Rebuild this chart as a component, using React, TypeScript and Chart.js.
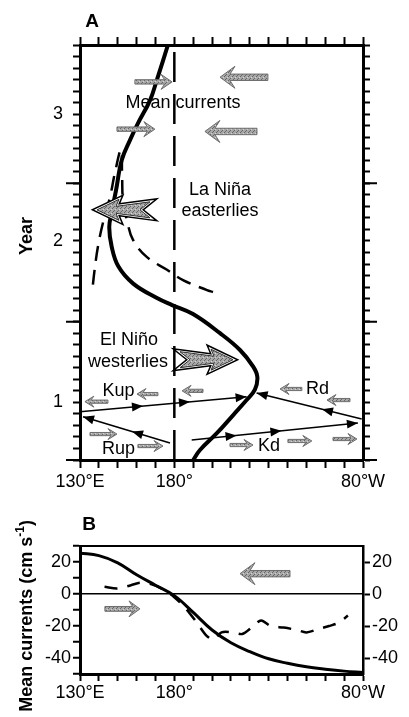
import React, { useEffect, useRef } from "react";
import { Chart, registerables } from "chart.js";
Chart.register(...registerables);

const FONT = '"Liberation Sans", Arial, Helvetica, sans-serif';

// ---------- Panel A (longitude vs. months) ----------
const lonLabelValues = [130, 180, 280];
const lonLabels = ["130°E", "180°", "80°W"];
const yearLabelMonths = [5, 19, 30];
const yearLabels = ["1", "2", "3"];
const yearBoundaryMonths = [0, 12, 24];

// eastern edge of warm pool (thick solid)
const edgeLon = [190, 193.6, 202.4, 211.2, 218.3, 222.7, 224, 221.8, 214.8, 204.2, 189.9, 178.8, 170.8, 158.2, 150.3, 146.8, 145.5, 146.8, 149.1, 152.1, 156.5, 160.7, 167.1, 170.8, 176.6];
const edgeMonth = [0, 0.87, 2.3, 3.9, 5.2, 6.1, 7.2, 8.1, 9.54, 11.0, 12.66, 13.44, 14.05, 15.3, 16.8, 18.5, 20.2, 21.5, 23.4, 26.0, 27.75, 29.2, 31.2, 33, 36];

// dashed curve
const dashLon = [200.5, 197.3, 184.6, 176.1, 165.5, 158.1, 154.9, 152.8, 152.3, 151.7, 148.5, 145.9, 142.2, 139.5, 137.9, 136.4];
const dashMonth = [14.57, 14.74, 15.6, 16.5, 17.6, 19.1, 20.8, 22.5, 24.7, 26.9, 24.9, 22.8, 20.6, 18.5, 16.7, 14.57];

// date line
const dateLineLon = [180, 180];
const dateLineMonth = [0, 36];

// wave paths: Kup, Rup, Kd, Rd
const waveFromLon = [130, 177.7, 189.2, 279.3];
const waveFromMonth = [4.19, 1.47, 1.73, 3.56];
const waveToLon = [218.3, 131.6, 277.3, 223.6];
const waveToMonth = [5.49, 3.76, 3.21, 5.81];
const waveHeads = [[0.378, 0.66, 1], [0.437, 1], [0.27, 0.54, 1], [0.378, 1]];

// mean current arrows
const meanTailLon = [159.1, 149.6, 229.6, 223.8];
const meanTipLon = [178.8, 169.7, 204.2, 196.2];
const meanMonth = [32.8, 28.7, 33.2, 28.5];

// small zonal current arrows
const smallTailLon = [144.8, 171.3, 195.2, 247.6, 273.1, 135.3, 160.7, 209.5, 240.2, 264.1];
const smallTipLon = [132.6, 160.2, 184.1, 236.0, 260.9, 149.6, 174.0, 221.7, 252.9, 276.8];
const smallMonth = [5.06, 5.72, 6.0, 6.16, 5.2, 2.25, 1.21, 1.3, 1.65, 1.82];

// wind arrows
const windTailLon = [167.1, 183];
const windTipLon = [139, 211.1];
const windMonth = [21.7, 8.7];

// text notes
const noteText = ["Mean currents", "La Niña", "easterlies", "El Niño", "westerlies", "Kup", "Rup", "Kd", "Rd"];
const noteLon = [184.6, 204.2, 204.2, 156, 155.4, 150.4, 150.4, 230.2, 255.9];
const noteMonth = [31.0, 23.4, 21.6, 10.4, 8.5, 6.0, 0.95, 1.21, 6.16];

// ---------- Panel B (mean currents) ----------
const currentLabelValues = [20, 0, -20, -40];
const bSolidLon = [130, 140, 150, 160, 170, 180, 190, 200, 210, 220, 230, 240, 250, 260, 270, 280];
const bSolidVal = [25.5, 24, 19.5, 12, 5.5, -1, -11.5, -22.5, -30.5, -36, -40.5, -43.3, -45.5, -47, -48.2, -49];
const bDashLon = [143, 150, 157, 162, 168, 174, 180, 186, 192, 197, 201, 205, 211, 216, 221, 226, 231, 238, 245, 250, 256, 262, 267, 272];
const bDashVal = [4.5, 3.5, 5.5, 7, 6, 3, -2, -9, -18, -26, -28.5, -24, -24, -25, -21, -16.5, -20, -21, -22.5, -24, -22, -20, -18, -13.5];
const bArrowTailLon = [241.3, 143.2];
const bArrowTipLon = [214.8, 161.8];
const bArrowVal = [12.7, -9.3];

const pts = (xs: number[], ys: number[]) => xs.map((x, i) => ({ x, y: ys[i] }));

function makePattern(ctx: CanvasRenderingContext2D) {
  const c = document.createElement("canvas");
  c.width = 4;
  c.height = 4;
  const g = c.getContext("2d")!;
  g.fillStyle = "#a8a8a8";
  g.fillRect(0, 0, 4, 4);
  g.fillStyle = "#666";
  g.fillRect(0, 0, 1, 1);
  g.fillRect(2, 2, 1, 1);
  g.fillRect(1, 3, 1, 1);
  g.fillStyle = "#d2d2d2";
  g.fillRect(3, 1, 1, 1);
  return ctx.createPattern(c, "repeat") as CanvasPattern;
}

function poly(ctx: CanvasRenderingContext2D, p: number[][]) {
  ctx.beginPath();
  p.forEach(([x, y], i) => (i ? ctx.lineTo(x, y) : ctx.moveTo(x, y)));
  ctx.closePath();
}

function blockArrow(ctx: CanvasRenderingContext2D, xTail: number, xTip: number, y: number, sh: number, hl: number, hh: number, notch: number, fill: any) {
  const d = Math.sign(xTip - xTail) || 1;
  const L = Math.abs(xTip - xTail);
  const P = (a: number, b: number) => [xTail + d * a, y + b];
  poly(ctx, [P(0, -sh), P(L - hl + notch, -sh), P(L - hl, -hh), P(L, 0), P(L - hl, hh), P(L - hl + notch, sh), P(0, sh)]);
  ctx.fillStyle = fill;
  ctx.fill();
  ctx.strokeStyle = "#6e6e6e";
  ctx.lineWidth = 1;
  ctx.stroke();
}

function fletchArrow(ctx: CanvasRenderingContext2D, xTail: number, xTip: number, y: number, fill: any) {
  const d = Math.sign(xTip - xTail) || 1;
  const L = Math.abs(xTip - xTail);
  const P = (a: number, b: number) => [xTail + d * a, y + b];
  const shape = [P(0, -8), P(L - 19, -3.5), P(L - 22, -10.5), P(L, 0), P(L - 22, 10.5), P(L - 19, 3.5), P(0, 8), P(10, 0)];
  ctx.lineJoin = "miter";
  poly(ctx, shape);
  ctx.strokeStyle = "#000";
  ctx.lineWidth = 5.5;
  ctx.stroke();
  ctx.strokeStyle = "#fff";
  ctx.lineWidth = 2.5;
  ctx.stroke();
  ctx.fillStyle = fill;
  ctx.fill();
  ctx.strokeStyle = "#333";
  ctx.lineWidth = 1;
  ctx.stroke();
}

function headAt(ctx: CanvasRenderingContext2D, x: number, y: number, ang: number, len = 10, half = 4.5) {
  const c = Math.cos(ang), s = Math.sin(ang);
  ctx.beginPath();
  ctx.moveTo(x, y);
  ctx.lineTo(x - len * c + half * s, y - len * s - half * c);
  ctx.lineTo(x - len * c - half * s, y - len * s + half * c);
  ctx.closePath();
  ctx.fillStyle = "#000";
  ctx.fill();
}

function axisTitle(ctx: CanvasRenderingContext2D, x: number, topEnd: number, parts: { t: string; sup?: boolean }[]) {
  const big = `bold 18px ${FONT}`;
  const small = `bold 12px ${FONT}`;
  let w = 0;
  parts.forEach((p) => {
    ctx.font = p.sup ? small : big;
    w += ctx.measureText(p.t).width;
  });
  ctx.save();
  ctx.translate(x, topEnd + w);
  ctx.rotate(-Math.PI / 2);
  ctx.fillStyle = "#000";
  ctx.textBaseline = "middle";
  ctx.textAlign = "left";
  let cx = 0;
  parts.forEach((p) => {
    ctx.font = p.sup ? small : big;
    ctx.fillText(p.t, cx, p.sup ? -6 : 0);
    cx += ctx.measureText(p.t).width;
  });
  ctx.restore();
}

const lonLabel = (v: any) => {
  const i = lonLabelValues.indexOf(Math.round(Number(v)));
  return i >= 0 ? lonLabels[i] : "";
};

const tickFont = { family: FONT, size: 18 };

const panelAPlugin = {
  id: "panelA",
  afterDraw(chart: any) {
    const ctx: CanvasRenderingContext2D = chart.ctx;
    const xs = chart.scales.x;
    const ys = chart.scales.y;
    const { left, right } = chart.chartArea;
    const pat = makePattern(ctx);
    ctx.save();
    // long ticks at year boundaries
    ctx.strokeStyle = "#000";
    ctx.lineWidth = 2;
    yearBoundaryMonths.forEach((m) => {
      const py = ys.getPixelForValue(m);
      ctx.beginPath();
      ctx.moveTo(left - 14, py);
      ctx.lineTo(left, py);
      ctx.moveTo(right, py);
      ctx.lineTo(right + 14, py);
      ctx.stroke();
    });
    // arrowheads on wave paths
    waveFromLon.forEach((_, i) => {
      const x0 = xs.getPixelForValue(waveFromLon[i]);
      const y0 = ys.getPixelForValue(waveFromMonth[i]);
      const x1 = xs.getPixelForValue(waveToLon[i]);
      const y1 = ys.getPixelForValue(waveToMonth[i]);
      const ang = Math.atan2(y1 - y0, x1 - x0);
      waveHeads[i].forEach((t) => headAt(ctx, x0 + t * (x1 - x0), y0 + t * (y1 - y0), ang, 11, 4.5));
    });
    // small arrows
    smallTailLon.forEach((_, i) =>
      blockArrow(ctx, xs.getPixelForValue(smallTailLon[i]), xs.getPixelForValue(smallTipLon[i]), ys.getPixelForValue(smallMonth[i]), 1.6, 9, 5.5, 3, pat)
    );
    // mean currents arrows
    meanTailLon.forEach((_, i) => {
      const big = i >= 2;
      blockArrow(ctx, xs.getPixelForValue(meanTailLon[i]), xs.getPixelForValue(meanTipLon[i]), ys.getPixelForValue(meanMonth[i]), big ? 3.2 : 2.2, big ? 15 : 11, big ? 11 : 7.5, big ? 5 : 3.5, pat);
    });
    // wind arrows
    windTailLon.forEach((_, i) =>
      fletchArrow(ctx, xs.getPixelForValue(windTailLon[i]), xs.getPixelForValue(windTipLon[i]), ys.getPixelForValue(windMonth[i]), pat)
    );
    // notes
    ctx.fillStyle = "#000";
    ctx.font = `18px ${FONT}`;
    ctx.textAlign = "center";
    ctx.textBaseline = "middle";
    noteText.forEach((t, i) => ctx.fillText(t, xs.getPixelForValue(noteLon[i]), ys.getPixelForValue(noteMonth[i])));
    // panel label
    ctx.font = `bold 19px ${FONT}`;
    ctx.fillText("A", 92, 22);
    axisTitle(ctx, 27, 217, [{ t: "Year" }]);
    ctx.restore();
  },
};

const panelBPlugin = {
  id: "panelB",
  afterDraw(chart: any) {
    const ctx: CanvasRenderingContext2D = chart.ctx;
    const xs = chart.scales.x;
    const ys = chart.scales.y;
    const pat = makePattern(ctx);
    ctx.save();
    bArrowTailLon.forEach((_, i) => {
      const big = i === 0;
      blockArrow(ctx, xs.getPixelForValue(bArrowTailLon[i]), xs.getPixelForValue(bArrowTipLon[i]), ys.getPixelForValue(bArrowVal[i]), big ? 3.2 : 2.4, big ? 15 : 11, big ? 11 : 8, big ? 5 : 3.5, pat);
    });
    ctx.fillStyle = "#000";
    ctx.textAlign = "center";
    ctx.textBaseline = "middle";
    ctx.font = `bold 19px ${FONT}`;
    ctx.fillText("B", 89, 25);
    axisTitle(ctx, 27, 20, [{ t: "Mean currents (cm s" }, { t: "-1", sup: true }, { t: ")" }]);
    ctx.restore();
  },
};

const tickGrid = (len: number) => ({ drawOnChartArea: false, tickLength: len, tickWidth: 2, tickColor: "#000" });

export default function App() {
  const refA = useRef<HTMLCanvasElement>(null);
  const refB = useRef<HTMLCanvasElement>(null);

  useEffect(() => {
    const lineDs = (data: any[], width: number, dash: number[] = [], tension = 0) => ({
      data,
      showLine: true,
      borderColor: "#000",
      backgroundColor: "#000",
      borderWidth: width,
      borderDash: dash,
      pointRadius: 0,
      tension,
      fill: false,
    });

    const chartA = new Chart(refA.current!, {
      type: "scatter",
      data: {
        datasets: [
          lineDs(pts(dateLineLon, dateLineMonth), 2.5, [30, 12]),
          lineDs(pts(dashLon, dashMonth), 2.5, [15, 9], 0.4),
          lineDs(pts(edgeLon, edgeMonth), 4, [], 0.4),
          ...waveFromLon.map((_, i) =>
            lineDs(pts([waveFromLon[i], waveToLon[i]], [waveFromMonth[i], waveToMonth[i]]), 1.6)
          ),
        ] as any,
      },
      options: {
        animation: false,
        responsive: false,
        events: [],
        layout: { padding: 0 },
        plugins: { legend: { display: false }, tooltip: { enabled: false } },
        scales: {
          x: {
            type: "linear",
            position: "bottom",
            min: 130,
            max: 280,
            ticks: { stepSize: 10, autoSkip: false, maxRotation: 0, padding: 3, color: "#000", font: tickFont, callback: lonLabel },
            grid: tickGrid(8),
            border: { color: "#000", width: 3 },
            afterFit: (s: any) => { s.height = 40; },
          },
          xTop: {
            type: "linear",
            position: "top",
            min: 130,
            max: 280,
            ticks: { stepSize: 10, display: false },
            grid: tickGrid(8),
            border: { color: "#000", width: 3 },
            afterFit: (s: any) => { s.height = 45; },
          },
          y: {
            type: "linear",
            position: "left",
            min: 0,
            max: 36,
            ticks: {
              stepSize: 1,
              autoSkip: false,
              padding: 10,
              color: "#000",
              font: tickFont,
              callback: (v: any) => {
                const i = yearLabelMonths.indexOf(Math.round(Number(v)));
                return i >= 0 ? yearLabels[i] : "";
              },
            },
            grid: tickGrid(7),
            border: { color: "#000", width: 3 },
            afterFit: (s: any) => { s.width = 80; },
          },
          yRight: {
            type: "linear",
            position: "right",
            min: 0,
            max: 36,
            ticks: { stepSize: 1, display: false },
            grid: tickGrid(7),
            border: { color: "#000", width: 3 },
            afterFit: (s: any) => { s.width = 46; },
          },
        },
      } as any,
      plugins: [panelAPlugin],
    });

    const chartB = new Chart(refB.current!, {
      type: "scatter",
      data: {
        datasets: [
          lineDs(pts(bSolidLon, bSolidVal), 3, [], 0.4),
          lineDs(pts(bDashLon, bDashVal), 2.5, [13, 10], 0.3),
        ] as any,
      },
      options: {
        animation: false,
        responsive: false,
        events: [],
        layout: { padding: 0 },
        plugins: { legend: { display: false }, tooltip: { enabled: false } },
        scales: {
          x: {
            type: "linear",
            position: "bottom",
            min: 130,
            max: 280,
            ticks: { stepSize: 10, autoSkip: false, maxRotation: 0, padding: 1, color: "#000", font: tickFont, callback: lonLabel },
            grid: tickGrid(7),
            border: { color: "#000", width: 3 },
            afterFit: (s: any) => { s.height = 43; },
          },
          xTop: {
            type: "linear",
            position: "top",
            min: 130,
            max: 280,
            ticks: { display: false },
            grid: { drawOnChartArea: false, drawTicks: false },
            border: { color: "#000", width: 2 },
            afterFit: (s: any) => { s.height = 46; },
          },
          y: {
            type: "linear",
            position: "left",
            min: -50,
            max: 30,
            ticks: {
              stepSize: 10,
              autoSkip: false,
              padding: 2,
              color: "#000",
              font: tickFont,
              callback: (v: any) => (currentLabelValues.includes(Math.round(Number(v))) ? String(v) : ""),
            },
            grid: {
              drawOnChartArea: true,
              color: (c: any) => (c.tick && c.tick.value === 0 ? "#000" : "rgba(0,0,0,0)"),
              lineWidth: 1.5,
              tickLength: 7,
              tickWidth: 2,
              tickColor: "#000",
            },
            border: { color: "#000", width: 3 },
            afterFit: (s: any) => { s.width = 80; },
          },
          yRight: {
            type: "linear",
            position: "right",
            min: -50,
            max: 30,
            afterBuildTicks: (s: any) => { s.ticks = currentLabelValues.map((v) => ({ value: v })); },
            ticks: { autoSkip: false, padding: 2, color: "#000", font: tickFont },
            grid: tickGrid(7),
            border: { color: "#000", width: 2.5 },
            afterFit: (s: any) => { s.width = 46; },
          },
        },
      } as any,
      plugins: [panelBPlugin],
    });

    return () => {
      chartA.destroy();
      chartB.destroy();
    };
  }, []);

  return (
    <div style={{ position: "absolute", left: 0, top: 0, width: 409, height: 717, background: "#fff", overflow: "hidden" }}>
      <canvas ref={refA} width={409} height={500} style={{ position: "absolute", left: 0, top: 0 }} />
      <canvas ref={refB} width={409} height={217} style={{ position: "absolute", left: 0, top: 500 }} />
    </div>
  );
}
